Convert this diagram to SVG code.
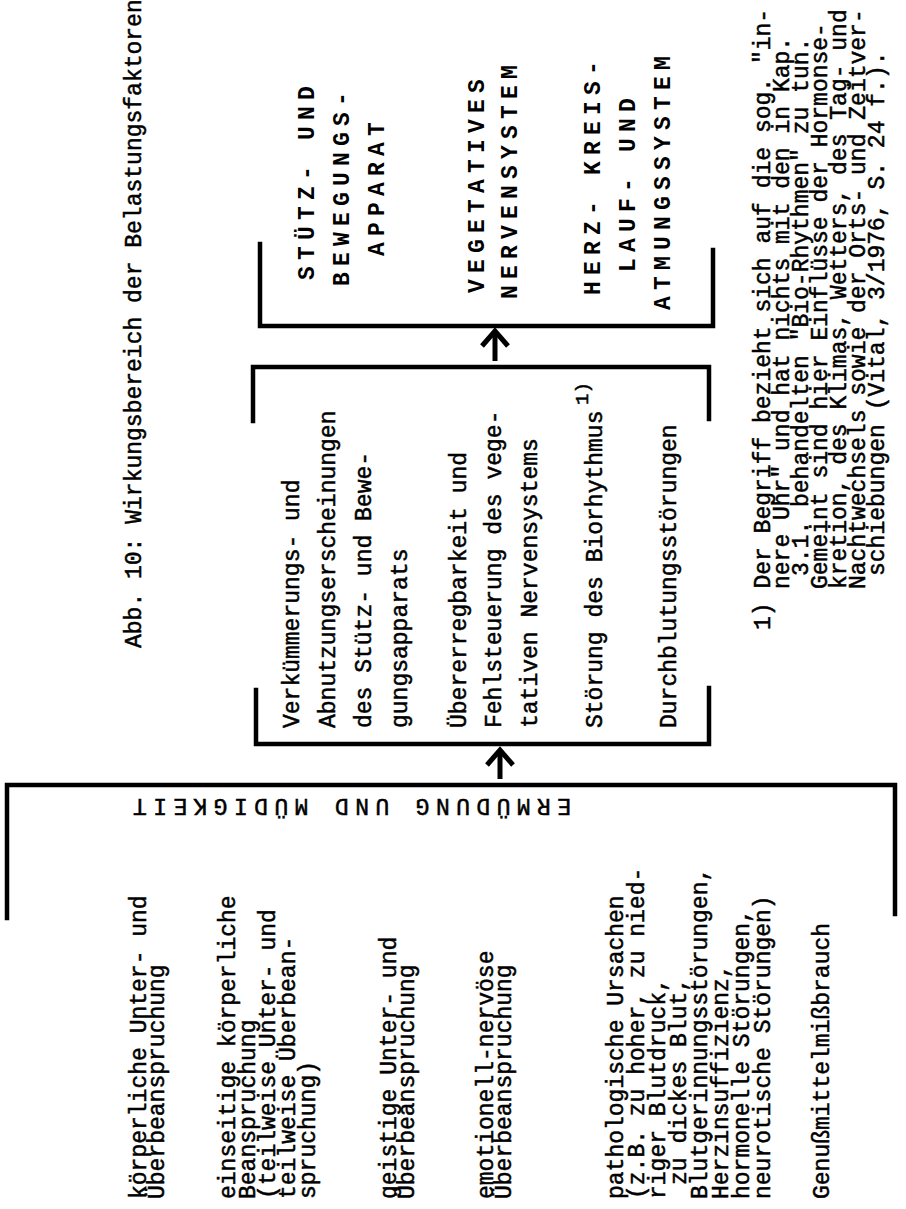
<svg xmlns="http://www.w3.org/2000/svg" width="906" height="1209" viewBox="0 0 906 1209">
<style>
.t{font-family:"Liberation Mono","DejaVu Sans Mono",monospace;font-size:23px;fill:#000;stroke:#000;stroke-width:0.5px}
.c{font-family:"Liberation Mono","DejaVu Sans Mono",monospace;font-size:23px;font-weight:bold;letter-spacing:6.2px;fill:#000}
.s{font-family:"Liberation Mono","DejaVu Sans Mono",monospace;font-size:23px;letter-spacing:6.4px;fill:#000;stroke:#000;stroke-width:0.5px}
.b{fill:none;stroke:#000;stroke-width:4.5;stroke-linecap:square;stroke-linejoin:miter}
.a{fill:none;stroke:#000;stroke-width:5;stroke-linecap:butt;stroke-linejoin:miter}
</style>
<rect width="906" height="1209" fill="#fff"/>
<g id="title">
<text class="t" transform="translate(141,648) rotate(-90)">Abb. 10: Wirkungsbereich der Belastungsfaktoren</text>
</g>
<g id="connectors">
<polyline class="b" points="7,918 7,785 895,785 895,914"/>
<polyline class="b" points="256,690 256,744 709,744 709,688"/>
<polyline class="b" points="253,421 253,367 709,367 709,419"/>
<polyline class="b" points="260,244 260,326 713,326 713,250"/>
<line class="a" x1="500" y1="779" x2="500" y2="750"/>
<polyline class="a" points="487,765 500,750 513,765"/>
<line class="a" x1="495" y1="361" x2="495" y2="331"/>
<polyline class="a" points="482,346 495,331 508,346"/>
</g>
<g id="label-ermuedung">
<text class="s" transform="translate(571,799) rotate(180)">ERMÜDUNG UND MÜDIGKEIT</text>
</g>
<g id="node-belastungsfaktoren">
<text class="t" transform="translate(146,1199) rotate(-90)">körperliche Unter- und</text>
<text class="t" transform="translate(164,1199) rotate(-90)">Überbeanspruchung</text>
<text class="t" transform="translate(235,1199) rotate(-90)">einseitige körperliche</text>
<text class="t" transform="translate(255,1199) rotate(-90)">Beanspruchung</text>
<text class="t" transform="translate(275,1199) rotate(-90)">(teilweise Unter- und</text>
<text class="t" transform="translate(295,1199) rotate(-90)">teilweise Überbean-</text>
<text class="t" transform="translate(315,1199) rotate(-90)">spruchung)</text>
<text class="t" transform="translate(396,1199) rotate(-90)">geistige Unter- und</text>
<text class="t" transform="translate(414,1199) rotate(-90)">Überbeanspruchung</text>
<text class="t" transform="translate(493,1199) rotate(-90)">emotionell-nervöse</text>
<text class="t" transform="translate(511,1199) rotate(-90)">Überbeanspruchung</text>
<text class="t" transform="translate(623,1199) rotate(-90)">pathologische Ursachen</text>
<text class="t" transform="translate(644,1199) rotate(-90)">(z.B. zu hoher, zu nied-</text>
<text class="t" transform="translate(665,1199) rotate(-90)">riger Blutdruck,</text>
<text class="t" transform="translate(686,1185) rotate(-90)">zu dickes Blut,</text>
<text class="t" transform="translate(707,1199) rotate(-90)">Blutgerinnungsstörungen,</text>
<text class="t" transform="translate(728,1199) rotate(-90)">Herzinsuffizienz,</text>
<text class="t" transform="translate(749,1199) rotate(-90)">hormonelle Störungen,</text>
<text class="t" transform="translate(770,1199) rotate(-90)">neurotische Störungen)</text>
<text class="t" transform="translate(829,1199) rotate(-90)">Genußmittelmißbrauch</text>
</g>
<g id="node-auswirkungen">
<text class="t" transform="translate(299,728) rotate(-90)">Verkümmerungs- und</text>
<text class="t" transform="translate(335,728) rotate(-90)">Abnutzungserscheinungen</text>
<text class="t" transform="translate(371,728) rotate(-90)">des Stütz- und Bewe-</text>
<text class="t" transform="translate(407,728) rotate(-90)">gungsapparats</text>
<text class="t" transform="translate(466,728) rotate(-90)">Übererregbarkeit und</text>
<text class="t" transform="translate(501,728) rotate(-90)">Fehlsteuerung des vege-</text>
<text class="t" transform="translate(537,728) rotate(-90)">tativen Nervensystems</text>
<text class="t" transform="translate(602,728) rotate(-90)">Störung des Biorhythmus</text>
<text class="t" style="font-size:19px" transform="translate(588,405) rotate(-90)">1)</text>
<text class="t" transform="translate(676,728) rotate(-90)">Durchblutungsstörungen</text>
</g>
<g id="node-organsysteme">
<text class="c" transform="translate(314,280) rotate(-90)">STÜTZ- UND</text>
<text class="c" transform="translate(349,286) rotate(-90)">BEWEGUNGS-</text>
<text class="c" transform="translate(384,256) rotate(-90)">APPARAT</text>
<text class="c" transform="translate(484,293) rotate(-90)">VEGETATIVES</text>
<text class="c" transform="translate(517,299) rotate(-90)">NERVENSYSTEM</text>
<text class="c" transform="translate(600,295) rotate(-90)">HERZ- KREIS-</text>
<text class="c" transform="translate(635,272) rotate(-90)">LAUF- UND</text>
<text class="c" transform="translate(670,310) rotate(-90)">ATMUNGSSYSTEM</text>
</g>
<g id="footnote">
<text class="t" transform="translate(770,630) rotate(-90)">1) Der Begriff bezieht sich auf die sog. "in-</text>
<text class="t" transform="translate(789,589) rotate(-90)">nere Uhr" und hat nichts mit den in Kap.</text>
<text class="t" transform="translate(808,576) rotate(-90)">3.1. behandelten "Bio-Rhythmen" zu tun.</text>
<text class="t" transform="translate(827,589) rotate(-90)">Gemeint sind hier Einflüsse der Hormonse-</text>
<text class="t" transform="translate(846,589) rotate(-90)">kretion, des Klimas, Wetters, des Tag- und</text>
<text class="t" transform="translate(865,589) rotate(-90)">Nachtwechsels sowie der Orts- und Zeitver-</text>
<text class="t" transform="translate(884,576) rotate(-90)">schiebungen (Vital, 3/1976, S. 24 f.).</text>
</g>
</svg>
